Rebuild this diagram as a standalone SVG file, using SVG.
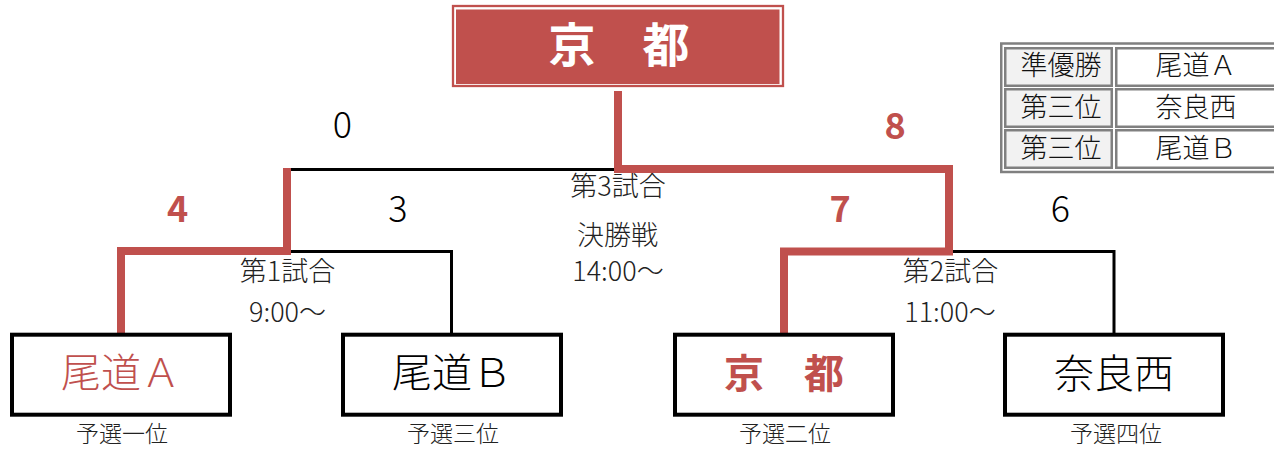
<svg xmlns="http://www.w3.org/2000/svg" width="1274" height="451" viewBox="0 0 1274 451">
<style>
text{font-family:"Noto Sans CJK JP","Noto Sans",sans-serif;text-anchor:middle}
.box{fill:#fff;stroke:#000;stroke-width:4}
.team{font-size:40px;fill:#000;font-weight:300}
.win{fill:#C0504D}
.bold{font-weight:bold}
.sub{font-size:23px;fill:#222;font-weight:300}
.score{font-size:36px;fill:#000;font-weight:300}
.rscore{font-size:36px;fill:#C0504D;font-weight:bold}
.match{font-size:27px;fill:#222;font-weight:300}
.blk{fill:none;stroke:#000;stroke-width:3;stroke-linejoin:miter}
.red{fill:none;stroke:#C0504D;stroke-width:8;stroke-linejoin:miter}
.cell{stroke:#808080;stroke-width:2.5}
.tt{font-size:27px;fill:#111;font-weight:300}
</style>
<rect width="1274" height="451" fill="#fff"/>

<g id="connectors">
<path class="blk" d="M121,251.5 H451.5 V334"/>
<path class="blk" d="M784,251.5 H1114 V334"/>
<path class="blk" d="M287,169.5 H949 V251.5"/>
<path class="red" d="M121,334 V251 H287 V168"/>
<path class="red" d="M618,91 V169 H949 V251.5 H784 V334"/>
</g>

<g id="champion">
<rect x="453" y="6" width="330" height="80" fill="#fff" stroke="#C0504D" stroke-width="2.3"/>
<rect x="456" y="9.5" width="323.5" height="74.5" fill="#C0504D"/>
<text x="619" y="62" font-size="47" font-weight="bold" fill="#fff">京　都</text>
</g>

<g id="team-onomichi-a">
<rect class="box" x="12" y="334.7" width="218" height="80"/>
<text class="team win" x="121" y="387">尾道Ａ</text>
<text class="sub" x="122" y="442">予選一位</text>
</g>
<g id="team-onomichi-b">
<rect class="box" x="343" y="334.7" width="218" height="80"/>
<text class="team" x="452" y="387">尾道Ｂ</text>
<text class="sub" x="453" y="442">予選三位</text>
</g>
<g id="team-kyoto">
<rect class="box" x="675" y="334.7" width="218" height="80"/>
<text class="team win bold" x="784" y="388" font-size="42">京　都</text>
<text class="sub" x="785" y="442">予選二位</text>
</g>
<g id="team-naranishi">
<rect class="box" x="1005" y="334.7" width="218" height="80"/>
<text class="team" x="1114" y="388">奈良西</text>
<text class="sub" x="1116" y="442">予選四位</text>
</g>

<g id="scores">
<text class="score" x="342.5" y="138">0</text>
<text class="rscore" x="895" y="139">8</text>
<text class="rscore" x="177.5" y="222">4</text>
<text class="score" x="398" y="222">3</text>
<text class="rscore" x="840" y="222">7</text>
<text class="score" x="1060.5" y="222">6</text>
</g>

<g id="match1">
<text class="match" x="287.5" y="281">第1試合</text>
<text class="match" x="287.5" y="322">9:00〜</text>
</g>
<g id="match2">
<text class="match" x="950.5" y="281">第2試合</text>
<text class="match" x="950" y="322">11:00〜</text>
</g>
<g id="match3">
<text class="match" x="618" y="196">第3試合</text>
<text class="match" x="617.5" y="245">決勝戦</text>
<text class="match" x="618" y="281">14:00〜</text>
</g>

<g id="results-table">
<rect x="1001.25" y="43.5" width="300" height="128.5" fill="#fff" stroke="#808080" stroke-width="2.5"/>
<rect class="cell" x="1005.25" y="48.25" width="106.5" height="37.5" fill="#F2F2F2"/>
<rect class="cell" x="1005.25" y="89.25" width="106.5" height="37.5" fill="#F2F2F2"/>
<rect class="cell" x="1005.25" y="130.25" width="106.5" height="37.5" fill="#F2F2F2"/>
<rect class="cell" x="1116.25" y="48.25" width="170" height="37.5" fill="#fff"/>
<rect class="cell" x="1116.25" y="89.25" width="170" height="37.5" fill="#fff"/>
<rect class="cell" x="1116.25" y="130.25" width="170" height="37.5" fill="#fff"/>
<text class="tt" x="1061" y="75">準優勝</text>
<text class="tt" x="1061" y="117">第三位</text>
<text class="tt" x="1061" y="158">第三位</text>
<text class="tt" x="1196" y="75">尾道Ａ</text>
<text class="tt" x="1196" y="117">奈良西</text>
<text class="tt" x="1196" y="158">尾道Ｂ</text>
</g>
</svg>
